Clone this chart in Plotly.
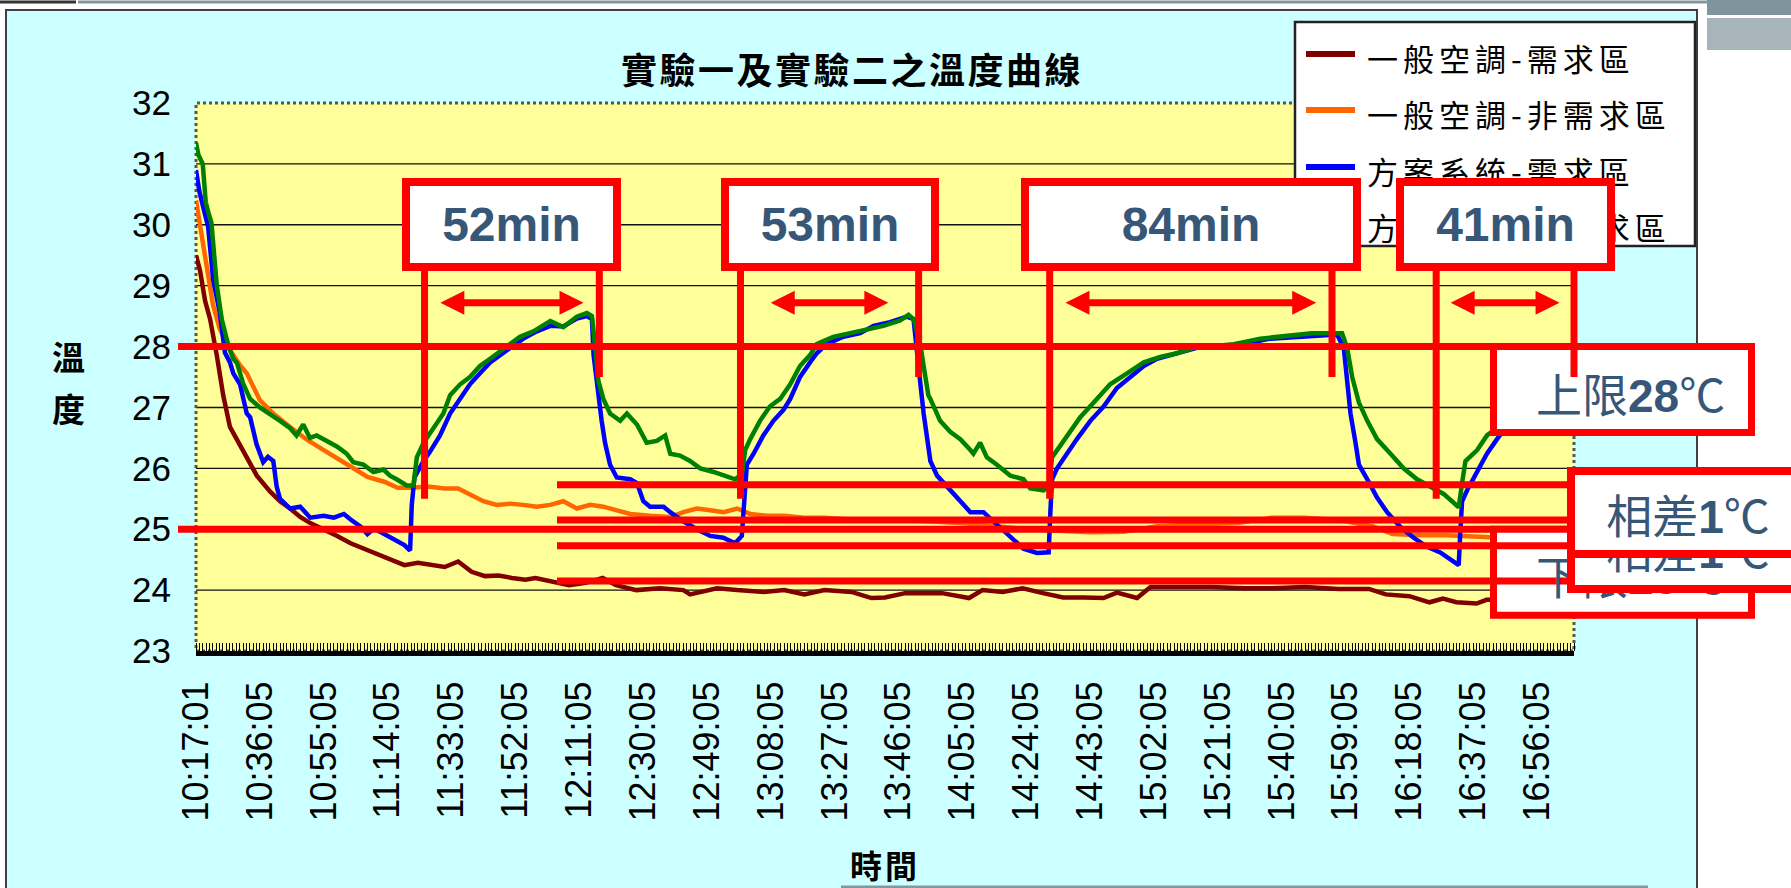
import plotly.graph_objects as go

# ---------------- data ----------------
TIME_LABELS = ["10:17:01", "10:36:05", "10:55:05", "11:14:05", "11:33:05", "11:52:05",
               "12:11:05", "12:30:05", "12:49:05", "13:08:05", "13:27:05", "13:46:05",
               "14:05:05", "14:24:05", "14:43:05", "15:02:05", "15:21:05", "15:40:05",
               "15:59:05", "16:18:05", "16:37:05", "16:56:05"]
Y_TICKS = [23, 24, 25, 26, 27, 28, 29, 30, 31, 32]

SERIES_NAMES = ["一般空調-需求區", "一般空調-非需求區", "方案系統-需求區", "方案系統-非需求區"]

# minutes after 10:17:01, temperature in °C
t_ac_need = [0, 1.2, 2.7, 4.2, 6.2, 8.1, 10.1, 13.1, 16.1, 18.1, 22, 25, 28, 31, 34, 38, 42, 46, 50, 54,
             58, 62, 66, 70, 74, 78, 82, 86, 90, 94, 98, 101, 105, 111, 116, 121, 125, 131, 138, 145,
             147, 155, 161, 169, 175, 181, 187, 195, 201, 205, 211, 218, 222, 230, 234, 240, 246, 252, 258, 264,
             270, 274, 280, 284, 292, 302, 312, 320, 330, 340, 349, 354, 361, 367, 371, 375, 381, 384, 392]
temp_ac_need = [29.5, 29.25, 28.75, 28.45, 27.85, 27.2, 26.68, 26.38, 26.1, 25.88, 25.62, 25.46, 25.34, 25.2, 25.1,
                25.0, 24.89, 24.77, 24.68, 24.6, 24.5, 24.41, 24.45, 24.41, 24.38, 24.47, 24.3, 24.23, 24.24, 24.2,
                24.17, 24.2, 24.15, 24.08, 24.12, 24.2, 24.08, 24.0, 24.03, 24.0, 23.93, 24.03, 24.0, 23.97, 24.0,
                23.93, 24.0, 23.97, 23.87, 23.88, 23.95, 23.95, 23.95, 23.87, 24.0, 23.97, 24.03, 23.95, 23.88, 23.88,
                23.87, 23.96, 23.87, 24.05, 24.05, 24.05, 24.03, 24.03, 24.05, 24.02, 24.02, 23.93, 23.9, 23.8, 23.86,
                23.8, 23.78, 23.84, 23.85]

t_ac_other = [0, 1.5, 3, 5, 7, 10, 13, 15.1, 19, 23, 28, 33, 38, 43, 46, 51, 56, 60, 64, 69,
              74, 78, 81.5, 85.5, 89.5, 93.5, 97.4, 101.4, 105.4, 109.3, 113.3, 117.3, 121.2, 125.2, 129.2, 135.1,
              141.1, 145, 149, 153, 157, 161, 165, 170, 175, 181, 187, 195, 205, 218, 228, 238, 248, 258, 266,
              276, 286, 298, 310, 320, 330, 340, 350, 356, 364, 372, 380, 388, 395]
temp_ac_other = [30.4, 29.87, 29.3, 28.7, 28.3, 27.95, 27.7, 27.56, 27.12, 26.9, 26.68, 26.47, 26.3, 26.14, 26.03,
                 25.86, 25.78, 25.68, 25.68, 25.7, 25.67, 25.67, 25.58, 25.46, 25.4, 25.42, 25.4, 25.37, 25.4, 25.46,
                 25.34, 25.4, 25.37, 25.31, 25.25, 25.22, 25.2, 25.28, 25.34, 25.31, 25.28, 25.34, 25.25, 25.22, 25.22,
                 25.19, 25.19, 25.16, 25.16, 25.13, 25.1, 25.05, 25.0, 24.97, 24.95, 24.96, 25.05, 25.08, 25.1, 25.19,
                 25.19, 25.15, 25.05, 24.92, 24.9, 24.9, 24.88, 24.86, 24.88]

t_new_need = [0, 1, 2.1, 3.6, 5.1, 7.1, 8.6, 10.1, 11.1, 13.1, 15.1, 16.1, 18, 20, 21.4, 23, 24, 25, 28, 31,
              34, 38, 41, 44, 46, 49, 51, 53, 56, 59, 62, 63.7, 64.2, 65, 67.7, 69.6, 72.6, 75.6, 78.6, 81.5,
              84.5, 87.5, 90.5, 93.5, 97.4, 101.4, 105.4, 109.3, 113.3, 116.3, 117.8, 118.3, 119.3, 120.7, 121.7,
              123.2, 125.2, 129.2, 131.2, 133.1, 135.1, 139.1, 141.1, 145, 149, 153, 156.9, 160.4, 162.4, 163.4,
              163.9, 165.9, 168.8, 171.8, 174.8, 176.8, 179.7, 182.7, 184.7, 187.6, 192.6, 197.6, 201.6, 206.5,
              211.5, 213.5, 214.5, 215.5, 216.5, 217.9, 218.5, 220.5, 223.4, 226.4, 230.4, 234.3, 237.3, 240.3,
              243.3, 246.2, 250.2, 253.7, 254.2, 254.7, 256.2, 259.1, 262.1, 266.1, 270.1, 274, 278, 282, 285.9,
              291.9, 297.8, 303.8, 311.7, 319.6, 329.5, 339.5, 341.5, 342.5, 343.5, 345, 346, 348.5, 351.4, 354.4,
              358.3, 362.3, 366.3, 370.2, 373.7, 375.7, 376.2, 376.7, 378.2, 381.2, 384.1, 387.1, 392, 397]
temp_new_need = [30.9, 30.55, 30.3, 29.97, 29.1, 28.55, 27.9, 27.74, 27.56, 27.38, 26.9, 26.84, 26.4, 26.1, 26.19,
                 26.12, 25.7, 25.5, 25.34, 25.37, 25.19, 25.22, 25.19, 25.25, 25.16, 25.04, 24.92, 25.01, 24.92, 24.83,
                 24.74, 24.65, 25.4, 25.85, 26.12, 26.27, 26.54, 26.9, 27.14, 27.38, 27.56, 27.74, 27.86, 27.98, 28.13,
                 28.25, 28.34, 28.33, 28.46, 28.5, 28.45, 27.86, 27.38, 26.78, 26.42, 26.06, 25.85, 25.82, 25.76, 25.46,
                 25.37, 25.37, 25.28, 25.13, 25.0, 24.89, 24.86, 24.77, 24.89, 25.58, 26.06, 26.24, 26.54, 26.78, 26.96,
                 27.14, 27.5, 27.74, 27.89, 28.04, 28.16, 28.22, 28.34, 28.4, 28.49, 28.45, 28.0, 27.4, 26.9, 26.42,
                 26.12, 25.88, 25.7, 25.52, 25.28, 25.28, 25.13, 24.98, 24.83, 24.68, 24.61, 24.62, 25.28, 25.82, 26.0,
                 26.24, 26.48, 26.78, 27.02, 27.32, 27.5, 27.68, 27.8, 27.89, 27.98, 28.01, 28.04, 28.13, 28.16, 28.2,
                 27.98, 27.38, 26.9, 26.42, 26.06, 25.82, 25.52, 25.28, 25.04, 24.86, 24.71, 24.62, 24.5, 24.41, 24.98,
                 25.46, 25.64, 25.94, 26.24, 26.48, 26.85, 27.2]

t_new_other = [0, 0.7, 2, 2.9, 3.7, 4.6, 5.65, 6.2, 7.7, 9.7, 11.1, 12.2, 14.1, 15.1, 16.1, 19, 22, 25, 28, 29.9,
               31.9, 33.9, 35.9, 38.9, 41.9, 44.8, 46.8, 49.8, 52.8, 55.8, 57.7, 59.7, 62.7, 64.7, 65.7, 67.7, 70.6,
               73.6, 75.6, 78.6, 81.5, 84.5, 87.5, 90.5, 93.5, 96.4, 100.4, 105.4, 109.3, 113.3, 116.3, 117.8, 118.8,
               119.7, 121.2, 123.2, 126.2, 128.2, 131.2, 134.1, 137.1, 139.6, 141.1, 144, 147, 150, 154, 156.9, 160.4,
               162.4, 163.4, 164.9, 167.8, 170.8, 173.8, 176.8, 179.7, 182.7, 184.7, 189.6, 194.6, 199.6, 204.5, 209.5,
               212, 213.5, 215.5, 216.5, 217.9, 218.5, 221.4, 224.4, 227.4, 230.4, 231.3, 233.3, 235.3, 238.3, 242.3,
               246.2, 248.2, 252.2, 253.7, 254.7, 256.2, 259.1, 263.1, 267.1, 272, 277, 282, 286.9, 291.9, 296.9,
               301.8, 308.8, 316.7, 325.6, 332, 341, 342.5, 344, 346, 348.5, 351.4, 355.4, 359.3, 363.3, 367.3, 371.2,
               373.7, 375.7, 376.7, 377.7, 381.2, 384.1, 387.1, 392, 398]
temp_new_other = [31.35, 31.15, 31.0, 30.37, 30.2, 30.03, 29.35, 29.0, 28.44, 28.0, 27.8, 27.73, 27.38, 27.24, 27.14,
                  27.0, 26.9, 26.78, 26.66, 26.54, 26.72, 26.5, 26.54, 26.45, 26.36, 26.24, 26.1, 26.06, 25.94, 25.98,
                  25.88, 25.82, 25.72, 25.72, 26.18, 26.42, 26.66, 26.9, 27.2, 27.38, 27.5, 27.68, 27.8, 27.92, 28.04,
                  28.16, 28.25, 28.42, 28.32, 28.49, 28.55, 28.5, 27.98, 27.44, 27.14, 26.9, 26.78, 26.9, 26.72, 26.42,
                  26.45, 26.54, 26.24, 26.21, 26.12, 26.0, 25.94, 25.88, 25.82, 25.9, 26.3, 26.48, 26.78, 27.02, 27.14,
                  27.38, 27.68, 27.86, 28.04, 28.16, 28.22, 28.28, 28.34, 28.43, 28.52, 28.45, 28.04, 27.68, 27.2, 27.14,
                  26.78, 26.6, 26.48, 26.3, 26.24, 26.42, 26.18, 26.06, 25.88, 25.82, 25.67, 25.64, 25.72, 26.18, 26.3,
                  26.54, 26.84, 27.08, 27.38, 27.56, 27.74, 27.83, 27.89, 27.98, 28.01, 28.04, 28.13, 28.19, 28.22, 28.22,
                  27.98, 27.5, 27.08, 26.78, 26.48, 26.24, 26.0, 25.82, 25.7, 25.58, 25.46, 25.36, 25.76, 26.12, 26.3,
                  26.54, 26.66, 27.0, 27.45]

# recovery periods marked on the chart: start minute and length in minutes
PERIOD_START = [68, 162, 254, 369]
PERIOD_MINUTES = [52, 53, 84, 41]
LIMITS = [28, 25]                       # upper / lower comfort limit, °C
BANDS = [25.73, 24.73, 25.15, 24.15]    # two 1 °C wide bands

# ---------------- layout geometry ----------------
FIG_W, FIG_H = 1791, 888
ML, MR, MT, MB = 196, 217, 103, 237
PW = FIG_W - ML - MR
PH = FIG_H - MT - MB
X_RANGE = (0, 410)
Y_RANGE = (23, 32)

COLORS = ["#800000", "#FF6600", "#0000FF", "#008000"]
RED = "#FF0000"
NOTE_BLUE = "#375778"
SANS = "Liberation Sans, Arial, sans-serif"
CJK = "Noto Sans CJK TC, sans-serif"


def minutes_from_start(label):
    h, m, s = map(int, label.split(":"))
    h0, m0, s0 = map(int, TIME_LABELS[0].split(":"))
    return ((h * 3600 + m * 60 + s) - (h0 * 3600 + m0 * 60 + s0)) / 60.0


def px_x(px):
    return (px - ML) / PW


def px_y(py):
    return (MT + PH - py) / PH


def dx(t):
    return (t - X_RANGE[0]) / (X_RANGE[1] - X_RANGE[0])


def dy(v):
    return (v - Y_RANGE[0]) / (Y_RANGE[1] - Y_RANGE[0])


def line(x0, y0, x1, y1, color, width, layer="above", dash=None):
    ln = dict(color=color, width=width)
    if dash:
        ln["dash"] = dash
    return dict(type="line", xref="paper", yref="paper", x0=x0, y0=y0, x1=x1, y1=y1,
                line=ln, layer=layer)


def rect(x0, y0, x1, y1, fill=None, color=None, width=0, layer="above", dash=None):
    ln = dict(color=color or "rgba(0,0,0,0)", width=width)
    if dash:
        ln["dash"] = dash
    return dict(type="rect", xref="paper", yref="paper", x0=x0, y0=y0, x1=x1, y1=y1,
                fillcolor=fill or "rgba(0,0,0,0)", line=ln, layer=layer)


def double_arrow(t0, t1, v, head_px=24, half_px=12, shaft_px=7):
    x0, x1, y = dx(t0), dx(t1), dy(v)
    hl = head_px / PW
    hh = half_px / PH
    sw = shaft_px / 2 / PH
    pts = [(x0, y), (x0 + hl, y + hh), (x0 + hl, y + sw), (x1 - hl, y + sw), (x1 - hl, y + hh),
           (x1, y), (x1 - hl, y - hh), (x1 - hl, y - sw), (x0 + hl, y - sw), (x0 + hl, y - hh)]
    path = "M " + " L ".join(f"{a:.5f},{b:.5f}" for a, b in pts) + " Z"
    return dict(type="path", xref="paper", yref="paper", path=path, fillcolor=RED,
                line=dict(color=RED, width=0), layer="above")


def spaced(text, px):
    return f'<span style="letter-spacing:{px}px">{text}</span>'


DEG = '<span style="font-family:Noto Sans CJK TC">℃</span>'

fig = go.Figure()
series = [(t_ac_need, temp_ac_need), (t_ac_other, temp_ac_other),
          (t_new_need, temp_new_need), (t_new_other, temp_new_other)]
for (tx, ty), name, col in zip(series, SERIES_NAMES, COLORS):
    fig.add_trace(go.Scatter(x=tx, y=ty, mode="lines", name=name, showlegend=False,
                             line=dict(color=col, width=4.5)))

shapes = []
# chart frame and slide decorations
shapes.append(rect(px_x(6), px_y(10), px_x(1697), px_y(905), fill="#CCFFFF", color="#404040", width=2, layer="below"))
shapes.append(line(px_x(78), px_y(2), px_x(1707), px_y(2), "#8497A0", 3, layer="below"))
shapes.append(line(px_x(0), px_y(2), px_x(76), px_y(2), "#333333", 3, layer="below"))
shapes.append(rect(px_x(1707), px_y(0), px_x(1791), px_y(15), fill="#7F959E", layer="below"))
shapes.append(rect(px_x(1707), px_y(18), px_x(1791), px_y(50), fill="#A7B5BB", layer="below"))
shapes.append(line(px_x(841), px_y(887), px_x(1648), px_y(887), "#8497A0", 3, layer="below"))
# plot area, gridlines, dotted frame
shapes.append(rect(0, 0, 1, 1, fill="#FFFF99", layer="below"))
for v in Y_TICKS[1:-1]:
    shapes.append(line(0, dy(v), 1, dy(v), "#111111", 1.4, layer="below"))
shapes.append(rect(0, 0, 1, 1, color="#555555", width=3, layer="below", dash="dot"))

# legend frame and keys
LEG_TEXT_Y = [57, 113, 170, 226]
shapes.append(rect(px_x(1295), px_y(22), px_x(1695), px_y(246), fill="white", color="#222222", width=2.5))
for yy, col in zip(LEG_TEXT_Y, COLORS):
    shapes.append(line(px_x(1306), px_y(yy - 3), px_x(1355), px_y(yy - 3), col, 6))

# limit lines and limit boxes
for v in LIMITS:
    shapes.append(line(px_x(178), dy(v), px_x(1752), dy(v), RED, 7))
BOX_H = 86 / PH
for v in LIMITS:
    shapes.append(rect(px_x(1493.5), dy(v), px_x(1751.5), dy(v) - BOX_H, fill="white", color=RED, width=7))
for v in BANDS:
    shapes.append(line(px_x(557), dy(v), px_x(1800), dy(v), RED, 7))

# period markers and arrows
ARROW_GAP = [4.7, 9.0, 4.7, 4.3]
for start, mins, gap in zip(PERIOD_START, PERIOD_MINUTES, ARROW_GAP):
    end = start + mins
    shapes.append(line(dx(start), px_y(266), dx(start), dy(25.5), RED, 7))
    shapes.append(line(dx(end), px_y(266), dx(end), dy(27.5), RED, 7))
    shapes.append(double_arrow(start + gap, end - gap, 28.72))

annotations = []
annotations.append(dict(text="<b>" + spaced("實驗一及實驗二之溫度曲線", 2.5) + "</b>", xref="paper", yref="paper",
                        x=px_x(852), y=px_y(68), showarrow=False, xanchor="center", yanchor="middle",
                        font=dict(family=CJK, size=36, color="black")))
for ch, yy in zip("溫度", [356, 408]):
    annotations.append(dict(text=f"<b>{ch}</b>", xref="paper", yref="paper", x=px_x(68), y=px_y(yy),
                            showarrow=False, xanchor="center", yanchor="middle",
                            font=dict(family=CJK, size=33, color="black")))
annotations.append(dict(text="<b>" + spaced("時間", 3) + "</b>", xref="paper", yref="paper",
                        x=px_x(885), y=px_y(864), showarrow=False, xanchor="center", yanchor="middle",
                        font=dict(family=CJK, size=32, color="black")))
for name, yy in zip(SERIES_NAMES, LEG_TEXT_Y):
    annotations.append(dict(text=spaced(name, 5), xref="paper", yref="paper", x=px_x(1365), y=px_y(yy),
                            showarrow=False, xanchor="left", yanchor="middle",
                            font=dict(family=CJK, size=31, color="black")))

BOX_W = [219, 218, 340, 219]
for start, mins, bw in zip(PERIOD_START, PERIOD_MINUTES, BOX_W):
    mid = start + mins / 2
    annotations.append(dict(text=f"<b>{mins}min</b>", xref="paper", yref="paper", x=dx(mid), y=px_y(224.5),
                            showarrow=False, xanchor="center", yanchor="middle",
                            width=bw - 16, height=93 - 16, bgcolor="white", bordercolor=RED,
                            borderwidth=8, borderpad=0, align="center", valign="middle",
                            font=dict(family=SANS, size=48, color=NOTE_BLUE)))

for label, v in zip(["上限", "下限"], LIMITS):
    annotations.append(dict(text=f"{label}<b>{v}</b>{DEG}", xref="paper", yref="paper",
                            x=px_x(1630), y=dy(v) - 45 / PH, showarrow=False,
                            xanchor="center", yanchor="middle",
                            font=dict(family=SANS + ", " + CJK, size=46, color=NOTE_BLUE)))

for cy in [547.5, 512.5]:
    annotations.append(dict(text=f"相差<b>1</b>{DEG}", xref="paper", yref="paper", x=px_x(1688), y=px_y(cy),
                            showarrow=False, xanchor="center", yanchor="middle",
                            width=242 - 16, height=91 - 16, bgcolor="white", bordercolor=RED,
                            borderwidth=8, borderpad=0, align="center", valign="middle",
                            font=dict(family=SANS + ", " + CJK, size=46, color=NOTE_BLUE)))

fig.update_layout(
    width=FIG_W, height=FIG_H, autosize=False,
    margin=dict(l=ML, r=MR, t=MT, b=MB, pad=0),
    paper_bgcolor="white", plot_bgcolor="rgba(0,0,0,0)",
    showlegend=False,
    shapes=shapes, annotations=annotations,
    xaxis=dict(range=list(X_RANGE), tickmode="array",
               tickvals=[minutes_from_start(s) for s in TIME_LABELS], ticktext=TIME_LABELS,
               tickangle=-90, tickfont=dict(family=SANS, size=36, color="black"),
               ticks="", showgrid=False, zeroline=False, showline=True, linecolor="black", linewidth=5,
               ticklabelstandoff=11,
               minor=dict(tick0=0, dtick=1, ticks="inside", ticklen=8, tickwidth=1, tickcolor="black",
                          showgrid=False)),
    yaxis=dict(range=list(Y_RANGE), tickmode="array", tickvals=Y_TICKS,
               tickfont=dict(family=SANS, size=35, color="black"),
               ticks="", showgrid=False, zeroline=False, showline=False, ticklabelstandoff=24),
)

fig.write_html("out.html", post_script="document.body.style.margin='0';")
